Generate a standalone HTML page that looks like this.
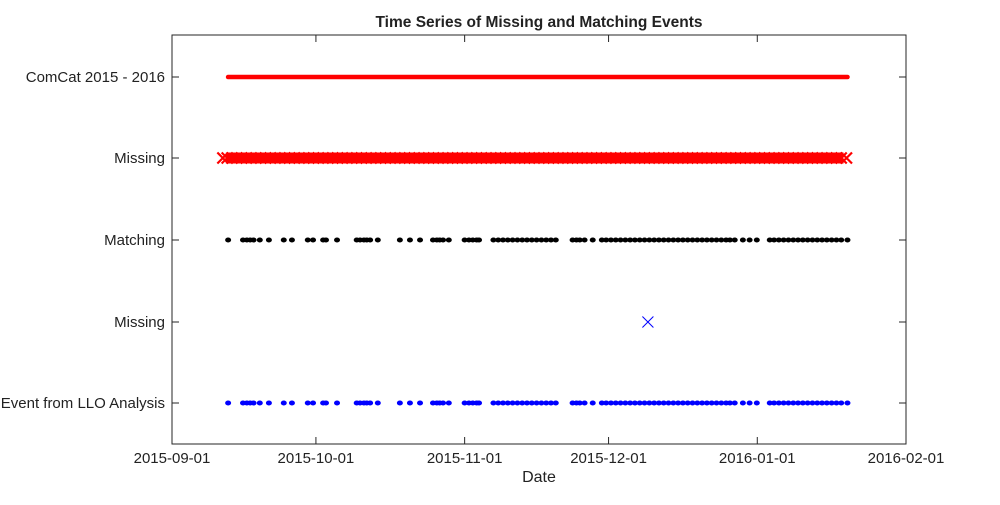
<!DOCTYPE html>
<html><head><meta charset="utf-8"><style>
body{margin:0;background:#fff;width:1000px;height:500px;overflow:hidden}
svg text{font-family:"Liberation Sans",sans-serif;fill:#222}
</style></head><body>
<svg id="chart" width="1000" height="500"></svg>
<script>
const xTickLabels=["2015-09-01","2015-10-01","2015-11-01","2015-12-01","2016-01-01","2016-02-01"];
const xTickDays=[0,30,61,91,122,153];
const rowLabels=["ComCat 2015 - 2016","Missing","Matching","Missing","Event from LLO Analysis"];
const matchDays=[11.7,14.8,15.6,16.3,17,18.3,20.2,23.3,25,28.3,29.4,31.5,32.1,34.4,38.5,39.2,40,40.6,41.3,42.9,47.5,49.6,51.7,54.4,55.2,55.8,56.5,57.7,61,61.9,62.7,63.5,64,67,68,69,70,71,72,73,74,75,76,77,78,79,80,83.5,84.3,85,86,87.7,89.6,90.5,91.5,92.5,93.5,94.5,95.5,96.5,97.5,98.5,99.5,100.5,101.5,102.5,103.5,104.5,105.5,106.5,107.5,108.5,109.5,110.5,111.5,112.5,113.5,114.5,115.5,116.3,117.3,119,120.4,121.9,124.6,125.5,126.5,127.5,128.5,129.5,130.5,131.5,132.5,133.5,134.5,135.5,136.5,137.5,138.5,139.5,140.8];
const comcatDays=[11.7,12.5,13.5,14.5,15.5,16.5,17.5,18.5,19.5,20.5,21.5,22.5,23.5,24.5,25.5,26.5,27.5,28.5,29.5,30.5,31.5,32.5,33.5,34.5,35.5,36.5,37.5,38.5,39.5,40.5,41.5,42.5,43.5,44.5,45.5,46.5,47.5,48.5,49.5,50.5,51.5,52.5,53.5,54.5,55.5,56.5,57.5,58.5,59.5,60.5,61.5,62.5,63.5,64.5,65.5,66.5,67.5,68.5,69.5,70.5,71.5,72.5,73.5,74.5,75.5,76.5,77.5,78.5,79.5,80.5,81.5,82.5,83.5,84.5,85.5,86.5,87.5,88.5,89.5,90.5,91.5,92.5,93.5,94.5,95.5,96.5,97.5,98.5,99.5,100.5,101.5,102.5,103.5,104.5,105.5,106.5,107.5,108.5,109.5,110.5,111.5,112.5,113.5,114.5,115.5,116.5,117.5,118.5,119.5,120.5,121.5,122.5,123.5,124.5,125.5,126.5,127.5,128.5,129.5,130.5,131.5,132.5,133.5,134.5,135.5,136.5,137.5,138.5,139.5,140.8];
const missingRedDays=[10.6,11.5,12.5,13.5,14.5,15.5,16.5,17.5,18.5,19.5,20.5,21.5,22.5,23.5,24.5,25.5,26.5,27.5,28.5,29.5,30.5,31.5,32.5,33.5,34.5,35.5,36.5,37.5,38.5,39.5,40.5,41.5,42.5,43.5,44.5,45.5,46.5,47.5,48.5,49.5,50.5,51.5,52.5,53.5,54.5,55.5,56.5,57.5,58.5,59.5,60.5,61.5,62.5,63.5,64.5,65.5,66.5,67.5,68.5,69.5,70.5,71.5,72.5,73.5,74.5,75.5,76.5,77.5,78.5,79.5,80.5,81.5,82.5,83.5,84.5,85.5,86.5,87.5,88.5,89.5,90.5,91.5,92.5,93.5,94.5,95.5,96.5,97.5,98.5,99.5,100.5,101.5,102.5,103.5,104.5,105.5,106.5,107.5,108.5,109.5,110.5,111.5,112.5,113.5,114.5,115.5,116.5,117.5,118.5,119.5,120.5,121.5,122.5,123.5,124.5,125.5,126.5,127.5,128.5,129.5,130.5,131.5,132.5,133.5,134.5,135.5,136.5,137.5,138.5,139.5,140.6];
const missingBlueDays=[99.2];

const L=172,R=906,T=35,B=444;
const xS=d=>L+d*(R-L)/153;
const rowY=[77,158,240,322,403];
const NS="http://www.w3.org/2000/svg";
const svg=document.getElementById('chart');
function mk(t,a,p){const e=document.createElementNS(NS,t);for(const k in a)e.setAttribute(k,a[k]);(p||svg).appendChild(e);return e;}

const box=mk('rect',{x:L,y:T,width:R-L,height:B-T,fill:'none',stroke:'#262626','stroke-width':1});



xTickDays.forEach((d,i)=>{
  const x=xS(d);
  mk('line',{x1:x,y1:B,x2:x,y2:B-7,stroke:'#262626'});
  mk('line',{x1:x,y1:T,x2:x,y2:T+7,stroke:'#262626'});
  const t=mk('text',{x:x,y:B+19,'text-anchor':'middle','font-size':15});
  t.textContent=xTickLabels[i];
  
  
});
rowY.forEach((y,i)=>{
  mk('line',{x1:L,y1:y,x2:L+7,y2:y,stroke:'#262626'});
  mk('line',{x1:R,y1:y,x2:R-7,y2:y,stroke:'#262626'});
  const t=mk('text',{x:L-7,y:y+5,'text-anchor':'end','font-size':15});
  t.textContent=rowLabels[i];
  
  
});
const title=mk('text',{x:(L+R)/2,y:27,'text-anchor':'middle','font-size':15.5,'font-weight':'bold'});
title.textContent='Time Series of Missing and Matching Events';


const xt=mk('text',{x:(L+R)/2,y:482,'text-anchor':'middle','font-size':16});
xt.textContent='Date';



function crosses(days,y,color,s,w,name){
  const g=mk('g',{stroke:color,'stroke-width':w,fill:'none'});
  
  
  days.forEach(d=>{
    const x=xS(d);
    mk('path',{d:`M${x-s} ${y-s}L${x+s} ${y+s}M${x-s} ${y+s}L${x+s} ${y-s}`},g);
  });
}
(function(){
  const g=mk('g',{fill:'red'});
  
  
  const pts=comcatDays.map(d=>xS(d)+','+rowY[0]).join(' ');
  mk('polyline',{points:pts,fill:'none',stroke:'red','stroke-width':4.6,'stroke-linecap':'round'},g);
})();
crosses(missingRedDays,rowY[1],'red',5.5,2.2,'missing-red-series');
(function(){
  const g=mk('g',{fill:'red'});
  mk('rect',{x:xS(missingRedDays[0])+3,y:rowY[1]-5.5,width:xS(missingRedDays[missingRedDays.length-1])-xS(missingRedDays[0])-6,height:11},g);
})();
function dotRow(days,y,color,name){
  const g=mk('g',{fill:color});
  
  
  days.forEach(d=>{mk('ellipse',{cx:xS(d),cy:y,rx:3,ry:2.5},g);});
}
dotRow(matchDays,rowY[2],'#000','matching-series');
crosses(missingBlueDays,rowY[3],'blue',5.5,1,'missing-blue-series');
dotRow(matchDays,rowY[4],'blue','llo-event-series');
</script>
</body></html>
